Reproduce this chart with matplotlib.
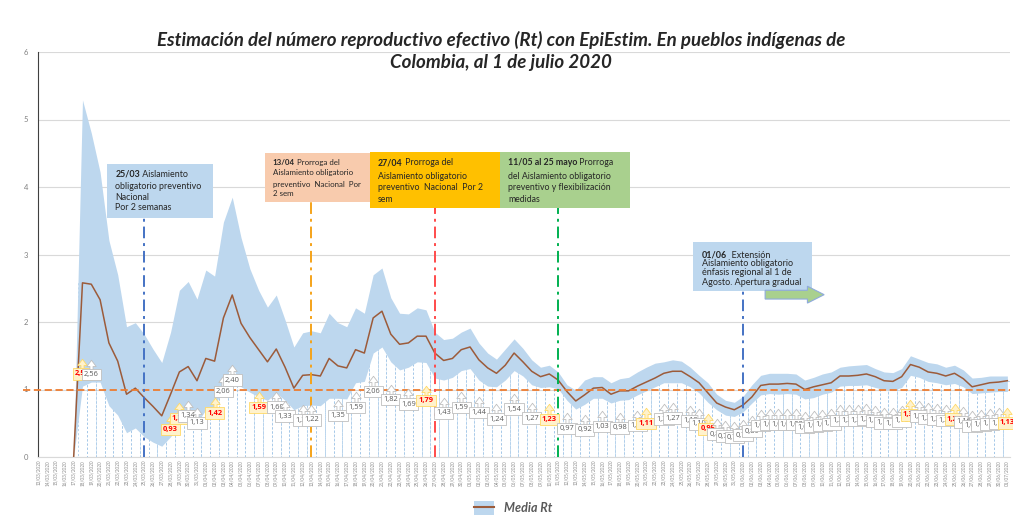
import numpy as np
import pandas as pd
import matplotlib
matplotlib.use("Agg")
import matplotlib.pyplot as plt
from matplotlib.patches import Rectangle, Polygon, Patch
from matplotlib.lines import Line2D
from matplotlib.path import Path
from matplotlib.text import Annotation

plt.rcParams['font.family'] = ['Lato', 'DejaVu Sans']

# daily axis 13/03/2020 - 01/07/2020, estimates start on 17/03
dates = pd.date_range("2020-03-13", "2020-07-01").strftime("%d/%m/%Y")
first_est = 4

rt_mean = [
    0.00, 2.58, 2.56, 2.33, 1.69, 1.42, 0.93, 1.02, 0.88, 0.75,
    0.61, 0.93, 1.26, 1.34, 1.13, 1.46, 1.42, 2.06, 2.40, 1.98,
    1.77, 1.59, 1.41, 1.60, 1.33, 1.02, 1.21, 1.22, 1.20, 1.46,
    1.35, 1.32, 1.59, 1.54, 2.06, 2.16, 1.82, 1.67, 1.69, 1.79,
    1.79, 1.54, 1.43, 1.46, 1.59, 1.63, 1.44, 1.32, 1.24, 1.36,
    1.54, 1.41, 1.27, 1.19, 1.23, 1.14, 0.97, 0.83, 0.92, 1.02,
    1.03, 0.93, 0.98, 0.98, 1.05, 1.11, 1.17, 1.24, 1.27, 1.27,
    1.19, 1.10, 0.95, 0.80, 0.74, 0.70, 0.77, 0.89, 1.06, 1.08,
    1.08, 1.09, 1.08, 1.00, 1.04, 1.07, 1.10, 1.20, 1.20, 1.21,
    1.23, 1.19, 1.13, 1.12, 1.19, 1.37, 1.33, 1.26, 1.24, 1.20,
    1.24, 1.16, 1.04, 1.07, 1.10, 1.11, 1.13,
]
rt_upper = [
    0.00, 5.29, 4.80, 4.22, 3.21, 2.70, 1.93, 1.99, 1.82, 1.60,
    1.40, 1.85, 2.47, 2.60, 2.34, 2.77, 2.68, 3.48, 3.85, 3.25,
    2.79, 2.47, 2.22, 2.40, 2.03, 1.63, 1.84, 1.87, 1.84, 2.13,
    1.99, 1.93, 2.21, 2.13, 2.70, 2.80, 2.36, 2.13, 2.12, 2.21,
    2.18, 1.85, 1.74, 1.76, 1.85, 1.91, 1.69, 1.54, 1.45, 1.60,
    1.75, 1.61, 1.44, 1.33, 1.36, 1.26, 1.07, 0.99, 1.14, 1.19,
    1.19, 1.10, 1.16, 1.18, 1.26, 1.33, 1.39, 1.41, 1.44, 1.42,
    1.33, 1.21, 1.10, 0.93, 0.84, 0.81, 0.90, 1.07, 1.21, 1.24,
    1.24, 1.24, 1.23, 1.14, 1.18, 1.23, 1.26, 1.33, 1.35, 1.36,
    1.37, 1.31, 1.26, 1.25, 1.31, 1.50, 1.45, 1.40, 1.38, 1.33,
    1.36, 1.29, 1.17, 1.18, 1.20, 1.20, 1.20,
]
rt_lower = [
    0.00, 1.05, 1.11, 1.11, 0.76, 0.62, 0.36, 0.43, 0.30, 0.22,
    0.16, 0.30, 0.47, 0.58, 0.50, 0.70, 0.70, 1.10, 1.36, 1.04,
    0.96, 0.89, 0.84, 0.95, 0.84, 0.70, 0.76, 0.77, 0.76, 0.87,
    0.87, 0.86, 1.10, 1.12, 1.54, 1.63, 1.41, 1.29, 1.33, 1.41,
    1.40, 1.17, 1.14, 1.18, 1.28, 1.31, 1.14, 1.05, 1.04, 1.14,
    1.28, 1.20, 1.07, 1.03, 1.04, 1.01, 0.84, 0.71, 0.78, 0.87,
    0.87, 0.80, 0.84, 0.85, 0.92, 0.98, 1.04, 1.10, 1.10, 1.10,
    1.04, 0.95, 0.81, 0.70, 0.62, 0.60, 0.67, 0.80, 0.92, 0.94,
    0.93, 0.94, 0.93, 0.86, 0.88, 0.93, 0.96, 1.05, 1.06, 1.06,
    1.07, 1.03, 1.00, 0.99, 1.03, 1.21, 1.18, 1.12, 1.10, 1.07,
    1.09, 1.04, 0.94, 0.95, 0.96, 0.97, 0.97,
]

# days that carry a value callout, and the highlighted ones
label_days = [5, 6, 15, 16, 17, 18, 20, 21, 22, 25, 27, 28, 30, 31, 34, 36,
              38, 40, 42, 44, 46, 48, 50, 52, 54, 56, 58, 60, 62, 64, 66,
              68, 69, 71, 72] + list(range(74, 111))
highlight_days = [5, 15, 16, 20, 25, 44, 58, 69, 76, 99, 104, 110]

# policy events: day index, line colour, top of line
event_days = [12, 31, 45, 59, 80]
event_colors = ["#4472C4", "#F5A31A", "#FF4B4B", "#00B050", "#4472C4"]
event_tops = [3.54, 3.78, 3.69, 3.69, 2.46]

title = ("Estimación del número reproductivo efectivo (Rt) con EpiEstim. En pueblos indígenas de\n"
         "Colombia, al 1 de julio 2020")

idx = np.arange(first_est, first_est + len(rt_mean))
mean = np.array(rt_mean)

fig = plt.figure(figsize=(10.13, 5.2), dpi=100)
ax = fig.add_axes([38 / 1013, 63 / 520, 972 / 1013, 405 / 520])

# dashed column outlines under the band
ax.bar(idx, mean, width=1.0, fill=False, edgecolor="#9DC3E6",
       linestyle=(0, (3, 3)), linewidth=0.5, zorder=1)
ax.fill_between(idx, rt_lower, rt_upper, color="#BDD7EE", lw=0, zorder=2)
ax.plot(idx, mean, color="#9C5B3A", lw=1.1, zorder=3)

# Rt = 1 reference
ax.plot([-1.8, 110.3], [1, 1], color="#ED7D31", ls=(0, (4, 2)), lw=1.3,
        clip_on=False, zorder=4)

ax.vlines(event_days, 0, event_tops, colors=event_colors,
          linestyles=[(0, (6, 2.5, 1.5, 2.5))], lw=1.4, zorder=4)

# value callouts
arrow_path = Path([(-0.25, -1), (0.25, -1), (0.25, 0), (0.75, 0), (0, 1),
                   (-0.75, 0), (-0.25, 0), (-0.25, -1)], closed=True)
for k, d in enumerate(label_days):
    v = mean[d - first_est]
    hot = d in highlight_days
    fc = "#FFF2CC" if hot else "white"
    ec = "#FFD966" if hot else "#BFBFBF"
    z = 5 + k * 0.01
    ax.plot(d, v / 2 + 0.075, marker=arrow_path, ms=9, mfc=fc, mec=ec,
            mew=0.6, ls="none", zorder=z, clip_on=False)
    ax.text(d, v / 2 - 0.06, f"{v:.2f}".replace(".", ","), ha="center",
            va="center", fontsize=5.4, family="Open Sans",
            color="#FF0000" if hot else "#595959",
            fontweight="bold" if hot else "normal", zorder=z + 0.005,
            bbox=dict(boxstyle="square,pad=0.3", fc=fc, ec=ec, lw=0.6))


def note(x0, x1, y0, y1, color, head, rest, lines, tx, ty, size):
    ax.add_patch(Rectangle((x0, y0), x1 - x0, y1 - y0, fc=color, ec="none",
                           zorder=10, clip_on=False))
    h = ax.text(tx, ty[0], head, fontsize=size, fontweight="bold",
                color="#262626", va="center", ha="left", zorder=11)
    ax.add_artist(Annotation(rest, xy=(1, 0.5), xycoords=h, va="center",
                             ha="left", fontsize=size, color="#262626",
                             zorder=11))
    for line, y in zip(lines, ty[1:]):
        ax.text(tx, y, line, fontsize=size, color="#262626", va="center",
                ha="left", zorder=11)


note(7.8, 19.83, 3.54, 4.34, "#BDD7EE", "25/03", " Aislamiento",
     ["obligatorio preventivo", "Nacional", "Por 2 semanas"],
     8.72, [4.19, 4.01, 3.85, 3.69], 6.4)
note(25.73, 37.65, 3.78, 4.50, "#F8CBAD", "13/04", " Prorroga del",
     ["Aislamiento obligatorio", "preventivo  Nacional  Por", "2 sem"],
     26.6, [4.37, 4.21, 4.04, 3.90], 5.7)
note(37.65, 52.4, 3.69, 4.52, "#FFC000", "27/04", " Prorroga del",
     ["Aislamiento obligatorio", "preventivo  Nacional  Por 2", "sem"],
     38.56, [4.36, 4.16, 3.99, 3.82], 6.3)
note(52.4, 67.16, 3.69, 4.52, "#A9D08E", "11/05 al 25 mayo", " Prorroga",
     ["del Aislamiento obligatorio", "preventivo y flexibilización", "medidas"],
     53.3, [4.36, 4.16, 3.99, 3.82], 6.3)
note(74.3, 87.8, 2.46, 3.19, "#BDD7EE", "01/06", "  Extensión",
     ["Aislamiento obligatorio", "énfasis regional al 1 de",
      "Agosto. Apertura gradual"],
     75.32, [2.99, 2.86, 2.73, 2.59], 6.5)

# "reopening" arrow
ax.add_patch(Polygon([(82.5, 2.47), (87.3, 2.47), (87.3, 2.53), (89.2, 2.405),
                      (87.3, 2.28), (87.3, 2.34), (82.5, 2.34)],
                     closed=True, fc="#A9D08E", ec="#8FAADC", lw=0.8,
                     zorder=12, clip_on=False))

# axes styling
ax.set_xlim(-0.05, 110.3)
ax.set_ylim(0, 6)
ax.set_yticks(range(7))
ax.yaxis.grid(True, color="#D9D9D9", lw=0.8)
ax.set_axisbelow(True)
ax.set_xticks(range(len(dates)))
ax.set_xticklabels(dates, rotation=90, fontsize=3.3, color="#8C8C8C")
ax.tick_params(axis="both", length=0)
ax.tick_params(axis="x", pad=2)
ax.tick_params(axis="y", labelsize=5.5, labelcolor="#808080", pad=7)
for s in ["top", "right"]:
    ax.spines[s].set_visible(False)
ax.spines["left"].set_color("#404040")
ax.spines["bottom"].set_color("#D9D9D9")

fig.text(501 / 1013, 1 - 51 / 520, title, ha="center", va="center",
         fontsize=13.5, fontweight="bold", fontstyle="italic", color="#262626",
         linespacing=1.3)

band_handle = Patch(fc="#BDD7EE", ec="none")
line_handle = Line2D([], [], color="#9C5B3A", lw=1.5)
fig.legend([(band_handle, line_handle)], ["Media Rt"], loc="center",
           bbox_to_anchor=(513 / 1013, 1 - 508 / 520), frameon=False,
           handlelength=1.6, handleheight=1.3,
           prop=dict(weight="bold", style="italic", size=9),
           labelcolor="#595959")

fig.savefig("out.png", dpi=100)
